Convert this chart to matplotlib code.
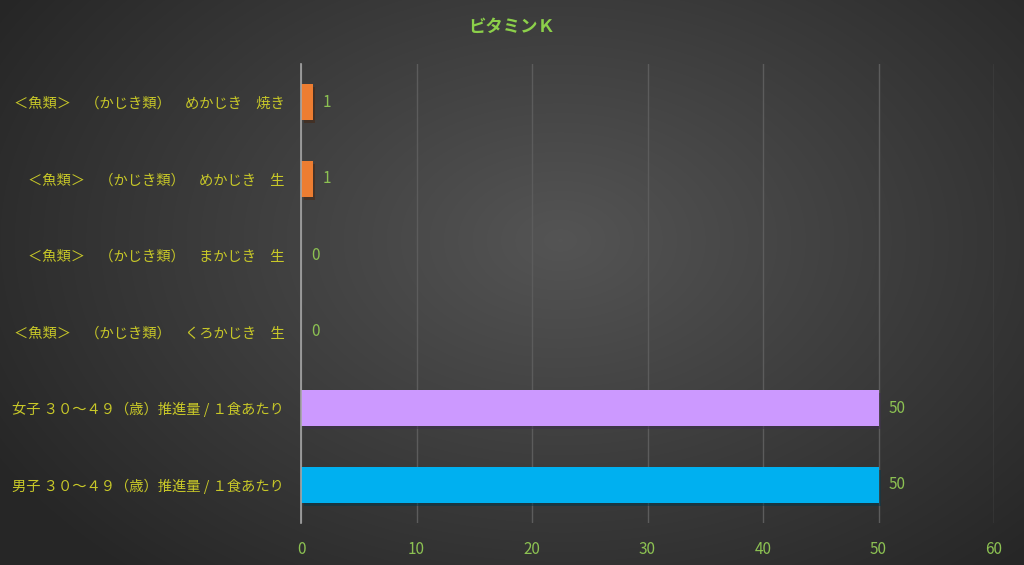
import numpy as np
import matplotlib.pyplot as plt
import matplotlib.patheffects as pe

plt.rcParams['font.family'] = ['Noto Sans CJK JP', 'DejaVu Sans']

# bottom to top
categories = ["男子 ３０～４９（歳）推進量 / １食あたり",
              "女子 ３０～４９（歳）推進量 / １食あたり",
              "＜魚類＞　（かじき類）　くろかじき　生",
              "＜魚類＞　（かじき類）　まかじき　生",
              "＜魚類＞　（かじき類）　めかじき　生",
              "＜魚類＞　（かじき類）　めかじき　焼き"]
values = [50, 50, 0, 0, 1, 1]
colors = ["#00B0F0", "#CC99FF", "#ED7D31", "#ED7D31", "#ED7D31", "#ED7D31"]
xticks = [0, 10, 20, 30, 40, 50, 60]

label_col = "#C8C828"
num_col = "#8CC152"

fig = plt.figure(figsize=(10.24, 5.65), dpi=100)

# radial gradient background
bg = fig.add_axes([0, 0, 1, 1], zorder=-10)
yy, xx = np.mgrid[0:565, 0:1024]
r = np.sqrt(((xx - 560) / 620.0) ** 2 + ((yy - 240) / 420.0) ** 2)
shade = np.clip(0.33 - 0.17 * r, 0.15, 0.33)
bg.imshow(np.dstack([shade, shade, shade]), aspect='auto', extent=[0, 1, 0, 1])
bg.axis('off')

ax = fig.add_axes([301 / 1024, 1 - 523 / 565, 693 / 1024, 459 / 565])
ax.set_facecolor('none')
y = np.arange(len(categories))
bars = ax.barh(y, values, height=0.47, color=colors, zorder=3)
for b in bars:
    b.set_path_effects([pe.SimplePatchShadow(offset=(2, -2), alpha=0.5), pe.Normal()])

for yi, v in zip(y, values):
    ax.text(v + 0.9, yi, str(v), va='center', ha='left', color=num_col, fontsize=11)

ax.set_xlim(0, 60)
ax.set_ylim(-0.5, len(categories) - 0.5)
ax.set_xticks(xticks)
ax.set_xticklabels([str(t) for t in xticks], color=num_col, fontsize=11)
ax.set_yticks(y)
ax.set_yticklabels(categories, color=label_col, fontsize=10.3)
ax.tick_params(axis='both', length=0)
ax.tick_params(axis='y', pad=12)
ax.tick_params(axis='x', pad=13)
ax.grid(axis='x', color='#5c5c5c', linewidth=1, zorder=0)
for s in ['top', 'right', 'bottom']:
    ax.spines[s].set_visible(False)
ax.spines['left'].set_color('#a6a6a6')
ax.spines['left'].set_linewidth(1.2)
ax.spines['left'].set_zorder(4)

fig.text(0.5, 1 - 27 / 565, "ビタミンＫ", ha='center', va='center',
         color='#8CD04A', fontsize=12.5, fontweight='bold')

fig.savefig("out.png", dpi=100)
